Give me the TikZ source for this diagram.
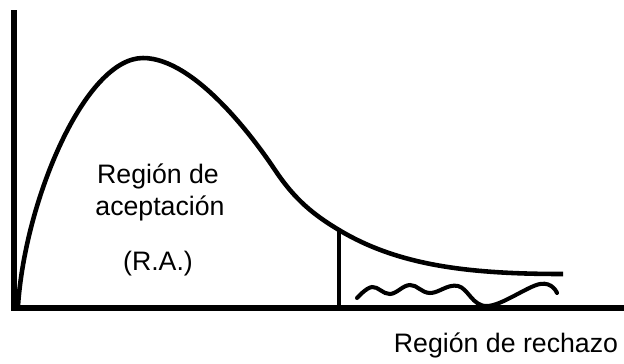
\documentclass[tikz,border=0pt]{standalone}
\usepackage{fontspec}
\setmainfont{Liberation Sans}
\begin{document}
\begin{tikzpicture}[x=0.02cm, y=-0.02cm,
    curva/.style={line width=2.6pt, line join=round},
    eje/.style={line width=3.2pt},
    texto/.style={anchor=base, inner sep=0pt, font=\fontsize{15.2}{18}\selectfont}]
      \useasboundingbox (0,0) rectangle (624,363);

      % ejes
      \coordinate (origen) at (14,308);
      \coordinate (arriba) at (14,10);
      \coordinate (derecha) at (624,308);
      \draw[eje] (arriba) -- (origen) -- (derecha);

      % curva de densidad
      \coordinate (inicio) at (18,306);
      \coordinate (pico) at (143,58);
      \coordinate (inflexion) at (275,170);
      \coordinate (corte) at (339,230);
      \coordinate (fin) at (563,274);
      \draw[curva] (inicio) .. controls (25,200) and (85,58) .. (pico)
                   .. controls (195,58) and (255,140) .. (inflexion)
                   .. controls (295,200) and (314,215) .. (corte)
                   .. controls (399,266) and (470,274) .. (fin);

      % valor critico
      \coordinate (pie) at (339,308);
      \draw[line width=2.6pt] (corte) -- (pie);

      % region de rechazo
      \draw[line width=2.3pt, line cap=round] plot[smooth, tension=0.65] coordinates {(357,298) (372,287) (390,294) (410,285) (430,293) (458,286) (487,306) (540,284) (557,293)};

      \node[texto] (ra1) at (158,183) {Región de};
      \node[texto] (ra2) at (160,215) {aceptación};
      \node[texto] (ra3) at (158,270) {(R.A.)};
      \node[texto] (rr) at (506,352) {Región de rechazo};

    \end{tikzpicture}
\end{document}
